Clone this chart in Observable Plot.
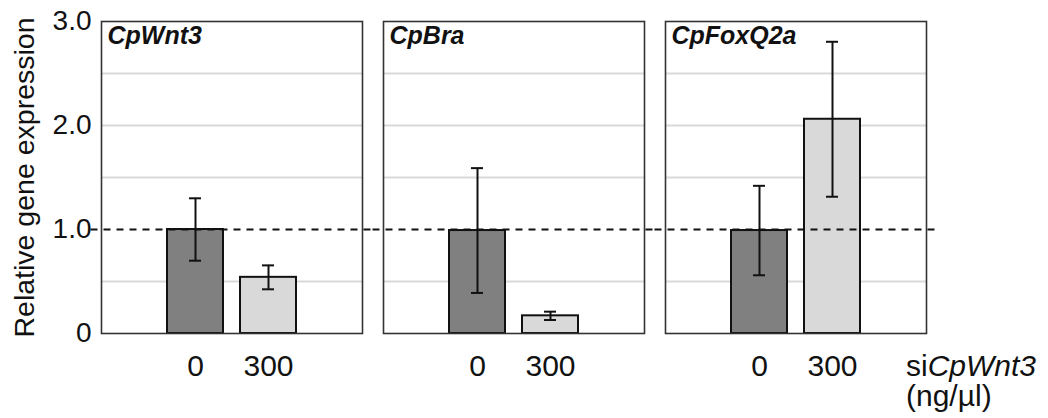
<!DOCTYPE html>
<html>
<head>
<meta charset="utf-8">
<script src="https://cdn.jsdelivr.net/npm/d3@7"></script>
<script src="https://cdn.jsdelivr.net/npm/@observablehq/plot@0.6"></script>
<style>
  html, body { margin: 0; padding: 0; background: #fff; }
  #wrap { position: relative; width: 1048px; height: 418px; font-family: "Liberation Sans", Arial, Helvetica, sans-serif; }
  #xlab { position: absolute; left: 906px; top: 351px; font-size: 30px; line-height: 30px; color: #111; white-space: nowrap; }
</style>
</head>
<body>
<div id="wrap">
  <div id="chart"></div>
  <div id="xlab">si<i>CpWnt3</i><br>(ng/µl)</div>
</div>
<script>
const genes = ["CpWnt3", "CpBra", "CpFoxQ2a"];
const doses = ["0", "300"];
const means = [[1.00, 0.54], [0.99, 0.17], [0.99, 2.06]];
const errors = [[0.30, 0.115], [0.60, 0.04], [0.43, 0.745]];
const yTicks = [0, 1, 2, 3];
const gridTicks = [0.5, 1.5, 2, 2.5];
const referenceLevel = [1];

const rows = [];
genes.forEach((g, i) => doses.forEach((d, j) => {
  rows.push({gene: g, dose: d, mean: means[i][j], lo: means[i][j] - errors[i][j], hi: means[i][j] + errors[i][j]});
}));

const chart = Plot.plot({
  width: 1048,
  height: 418,
  marginLeft: 100,
  marginRight: 120,
  marginTop: 21,
  marginBottom: 85,
  style: {fontFamily: '"Liberation Sans", Arial, Helvetica, sans-serif', color: "#111", background: "#fff"},
  fx: {domain: genes, paddingInner: 0.074, paddingOuter: 0, axis: null, label: null},
  x: {domain: doses, paddingInner: 0.227, paddingOuter: 0.891, align: 0.5, axis: null},
  y: {domain: [0, 3], axis: null},
  color: {domain: doses, range: ["#808080", "#d9d9d9"]},
  marks: [
    Plot.gridY(gridTicks, {stroke: "#d9d9d9", strokeOpacity: 1, strokeWidth: 2}),
    Plot.barY(rows, {fx: "gene", x: "dose", y: "mean", fill: "dose", stroke: "#111", strokeWidth: 2}),
    Plot.frame({stroke: "#333", strokeWidth: 1.6}),
    Plot.ruleY(referenceLevel, {stroke: "#111", strokeWidth: 2, strokeDasharray: "7,6", insetLeft: -10.5, insetRight: -10.5}),
    Plot.ruleX(rows, {fx: "gene", x: "dose", y1: "lo", y2: "hi", stroke: "#111", strokeWidth: 2}),
    Plot.tickY(rows, {fx: "gene", x: "dose", y: "hi", stroke: "#111", strokeWidth: 2, insetLeft: 22, insetRight: 22}),
    Plot.tickY(rows, {fx: "gene", x: "dose", y: "lo", stroke: "#111", strokeWidth: 2, insetLeft: 22, insetRight: 22}),
    Plot.text(genes, {fx: d => d, text: d => d, frameAnchor: "top-left", dx: 6, dy: 5, lineAnchor: "top", textAnchor: "start", fontWeight: "bold", fontStyle: "italic", fontSize: 25, fill: "#111"}),
    Plot.axisX({tickSize: 0, tickPadding: 21, fontSize: 30, label: null}),
    Plot.axisY({ticks: yTicks, tickFormat: d => d === 0 ? "0" : d.toFixed(1), tickSize: 0, tickPadding: 10, fontSize: 28, label: null}),
    Plot.axisY({ticks: [], tickSize: 0, fontSize: 28.5,
      label: "Relative gene expression", labelAnchor: "center", labelOffset: 88, labelArrow: "none"})
  ]
});
document.getElementById("chart").appendChild(chart);
</script>
</body>
</html>
